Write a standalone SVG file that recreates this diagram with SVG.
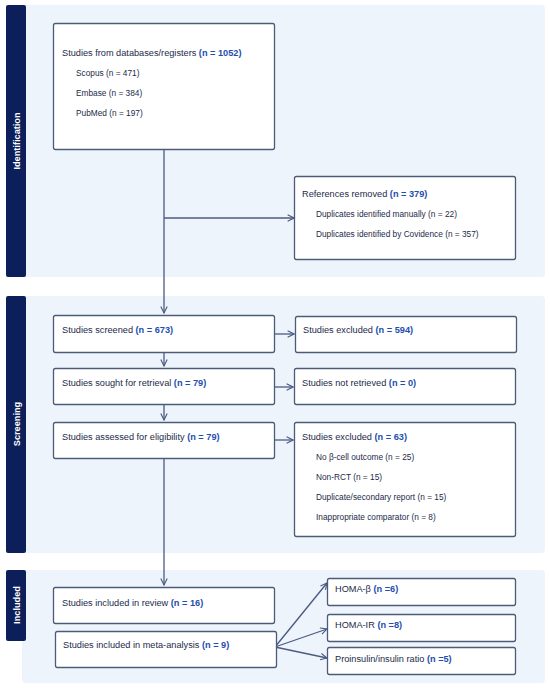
<svg xmlns="http://www.w3.org/2000/svg" width="550" height="690" viewBox="0 0 550 690">
<defs>
<style>
.panel{fill:#eef4fc;}
.bar{fill:#0c1f5a;}
.box{fill:#ffffff;stroke:#4b5b78;stroke-width:1.3;}
.t{font-family:"Liberation Sans",Arial,sans-serif;font-size:9.2px;fill:#1c2a48;}
.s{font-family:"Liberation Sans",Arial,sans-serif;font-size:8.3px;fill:#1c2a48;}
.h{font-family:"Liberation Sans",Arial,sans-serif;font-size:9.2px;fill:#1c2a48;}
.n{fill:#1f4fae;font-weight:bold;}
.lab{font-family:"Liberation Sans",Arial,sans-serif;font-size:9.2px;font-weight:bold;fill:#ffffff;}
.c{stroke:#4b5b80;stroke-width:1.3;fill:none;}
</style>
<marker id="ah" viewBox="0 0 10 10" refX="9" refY="5" markerWidth="8" markerHeight="8" orient="auto" markerUnits="userSpaceOnUse">
<path d="M1,1 L9,5 L1,9" fill="none" stroke="#4b5b80" stroke-width="1.4"/>
</marker>
</defs>
<rect width="550" height="690" fill="#ffffff"/>

<g id="sec-identification">
<rect class="panel" x="22" y="5" width="523" height="272" rx="4"/>
<rect class="bar" x="6" y="5" width="20" height="272" rx="2"/>
<text class="lab" transform="translate(19.5,141) rotate(-90)" text-anchor="middle">Identification</text>
</g>
<g id="sec-screening">
<rect class="panel" x="22" y="296" width="523" height="257" rx="4"/>
<rect class="bar" x="6" y="296" width="20" height="257" rx="2"/>
<text class="lab" transform="translate(19.5,424) rotate(-90)" text-anchor="middle">Screening</text>
</g>
<g id="sec-included">
<rect class="panel" x="22" y="570" width="523" height="113" rx="4"/>
<rect class="bar" x="6" y="570" width="20" height="71" rx="2"/>
<text class="lab" transform="translate(19.5,605) rotate(-90)" text-anchor="middle">Included</text>
</g>

<g id="connectors">
<path class="c" d="M164,149 V313" marker-end="url(#ah)"/>
<path class="c" d="M164,218 H294" marker-end="url(#ah)"/>
<path class="c" d="M164,352 V366" marker-end="url(#ah)"/>
<path class="c" d="M164,404 V420" marker-end="url(#ah)"/>
<path class="c" d="M164,458 V585" marker-end="url(#ah)"/>
<path class="c" d="M274,334 H294" marker-end="url(#ah)"/>
<path class="c" d="M274,387 H293" marker-end="url(#ah)"/>
<path class="c" d="M274,440 H293" marker-end="url(#ah)"/>
<path class="c" d="M275,647 L327,583" marker-end="url(#ah)"/>
<path class="c" d="M275,647 L327,629" marker-end="url(#ah)"/>
<path class="c" d="M275,647 L327,658" marker-end="url(#ah)"/>
</g>

<g id="node-databases">
<rect class="box" x="53.5" y="23.5" width="221" height="126" rx="2"/>
<text class="t" x="62" y="56">Studies from databases/registers <tspan class="n">(n = 1052)</tspan></text>
<text class="s" x="76" y="76">Scopus (n = 471)</text>
<text class="s" x="76" y="96">Embase (n = 384)</text>
<text class="s" x="76" y="116">PubMed (n = 197)</text>
</g>
<g id="node-removed">
<rect class="box" x="294.5" y="176.5" width="221" height="83" rx="2"/>
<text class="t" x="302" y="197">References removed <tspan class="n">(n = 379)</tspan></text>
<text class="s" x="316" y="217">Duplicates identified manually (n = 22)</text>
<text class="s" x="316" y="237">Duplicates identified by Covidence (n = 357)</text>
</g>
<g id="node-screened">
<rect class="box" x="53.5" y="315.5" width="221" height="37" rx="2"/>
<text class="t" x="62" y="333">Studies screened <tspan class="n">(n = 673)</tspan></text>
</g>
<g id="node-excluded1">
<rect class="box" x="295.5" y="316.5" width="221" height="36" rx="2"/>
<text class="t" x="303" y="333">Studies excluded <tspan class="n">(n = 594)</tspan></text>
</g>
<g id="node-retrieval">
<rect class="box" x="53.5" y="368.5" width="221" height="36" rx="2"/>
<text class="t" x="62" y="386">Studies sought for retrieval <tspan class="n">(n = 79)</tspan></text>
</g>
<g id="node-notretrieved">
<rect class="box" x="294.5" y="368.5" width="221" height="36" rx="2"/>
<text class="t" x="302" y="386">Studies not retrieved <tspan class="n">(n = 0)</tspan></text>
</g>
<g id="node-eligibility">
<rect class="box" x="53.5" y="422.5" width="221" height="36" rx="2"/>
<text class="t" x="62" y="440">Studies assessed for eligibility <tspan class="n">(n = 79)</tspan></text>
</g>
<g id="node-excluded2">
<rect class="box" x="294.5" y="422.5" width="221" height="114" rx="2"/>
<text class="t" x="302" y="440">Studies excluded <tspan class="n">(n = 63)</tspan></text>
<text class="s" x="316" y="460">No β-cell outcome (n = 25)</text>
<text class="s" x="316" y="480">Non-RCT (n = 15)</text>
<text class="s" x="316" y="500">Duplicate/secondary report (n = 15)</text>
<text class="s" x="316" y="520">Inappropriate comparator (n = 8)</text>
</g>
<g id="node-review">
<rect class="box" x="53.5" y="587.5" width="221" height="36" rx="2"/>
<text class="t" x="62" y="606">Studies included in review <tspan class="n">(n = 16)</tspan></text>
</g>
<g id="node-meta">
<rect class="box" x="55.5" y="631.5" width="221" height="36" rx="2"/>
<text class="t" x="63" y="648">Studies included in meta-analysis <tspan class="n">(n = 9)</tspan></text>
</g>
<g id="node-homab">
<rect class="box" x="327.5" y="578.5" width="188" height="27" rx="2"/>
<text class="h" x="335" y="592">HOMA-β <tspan class="n">(n =6)</tspan></text>
</g>
<g id="node-homair">
<rect class="box" x="327.5" y="614.5" width="188" height="27" rx="2"/>
<text class="h" x="335" y="628">HOMA-IR <tspan class="n">(n =8)</tspan></text>
</g>
<g id="node-proinsulin">
<rect class="box" x="327.5" y="647.5" width="188" height="27" rx="2"/>
<text class="h" x="335" y="662">Proinsulin/insulin ratio <tspan class="n">(n =5)</tspan></text>
</g>
</svg>
